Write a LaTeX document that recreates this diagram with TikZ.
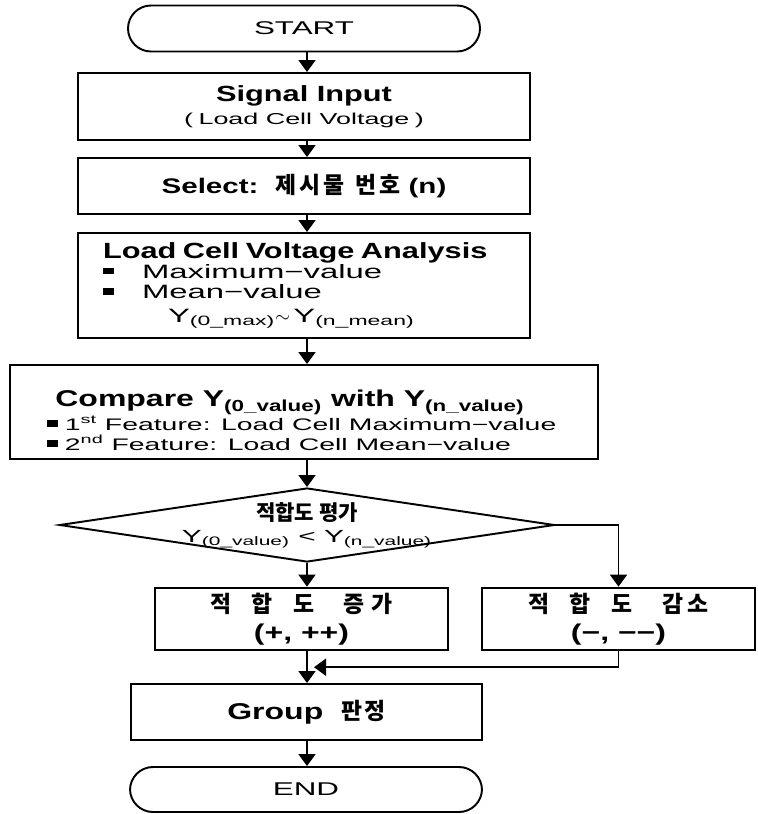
\documentclass[tikz,border=0pt]{standalone}
\usepackage{fontspec}
\setmainfont{Liberation Sans}[UprightFeatures={FakeStretch=1.7}, BoldFeatures={FakeStretch=1.4}]
\newfontfamily\kor{Noto Sans CJK KR}
\usetikzlibrary{arrows.meta, positioning, shapes.geometric, calc}

\newcommand{\bul}{\rule[0.22em]{6pt}{3.6pt}}
\newcommand{\kgap}{\hspace{0.9em}}

\tikzset{
  term/.style={draw, line width=1.1pt, rounded corners=0.46cm, minimum width=7.04cm,
               minimum height=0.92cm, font=\fontsize{10.5}{12}\selectfont},
  pbox/.style={draw, line width=1.1pt, minimum width=9.04cm, inner sep=3pt, align=center},
  arr/.style={-{Triangle[width=0.34cm, length=0.24cm]}, line width=1.1pt},
}

\begin{document}
\begin{tikzpicture}[
    every node/.style={font=\fontsize{11}{13}\selectfont},
    ybox/.style={pbox, minimum width=5.86cm, minimum height=1.12cm, font=\fontsize{13}{16}\selectfont},
    decbox/.style={draw, diamond, line width=1.1pt, minimum width=9.9cm, minimum height=1.48cm, inner sep=0pt}
  ]
  \useasboundingbox (0,0) rectangle (15.16,-16.28);
  \coordinate (axis) at (6.14,0);

  % Start / input
  \node[term] (start) at (6.08,-0.57) {START};
  \node[pbox, minimum height=1.34cm] (sig) at (6.08,-2.13)
    {{\bfseries\fontsize{12.5}{15}\selectfont Signal Input}\\
     {\fontsize{9}{11}\selectfont (\hspace{0.35em}Load Cell Voltage\hspace{0.35em})}};
  \node[pbox, minimum height=1.12cm, font=\bfseries\fontsize{12}{14}\selectfont] (sel) at (6.08,-3.72)
    {Select:\hspace{0.3em} {\kor\fontsize{13}{14}\selectfont 제\hspace{0.12em}시\hspace{0.12em}물\hspace{0.5em}번\hspace{0.12em}호} (n)};

  % Analysis
  \node[pbox, minimum height=2.1cm, align=left, text width=8.04cm, inner xsep=0.5cm,
        font=\fontsize{11}{11.6}\selectfont] (ana) at (6.08,-5.71)
    {{\bfseries\fontsize{12.5}{11.6}\selectfont Load Cell Voltage Analysis}\\
     \makebox[0.78cm][l]{\bul}Maximum−value\\
     \makebox[0.78cm][l]{\bul}Mean−value\\[2pt]
     \hspace*{1.3cm}Y\textsubscript{(0\_max)}$\sim$\,Y\textsubscript{(n\_mean)}};

  % Compare
  \node[pbox, minimum width=11.76cm, minimum height=1.88cm] (cmp) at (6.08,-8.24) {};
  \node[anchor=south west, align=left, inner sep=0pt, font=\fontsize{9.5}{11.4}\selectfont] (cmptxt)
    at ([xshift=0.76cm, yshift=0.18cm]cmp.south west)
    {\hspace*{0.16cm}{\bfseries\fontsize{13}{11.4}\selectfont Compare Y\textsubscript{(0\_value)} with Y\textsubscript{(n\_value)}}\\
     \bul\hspace{4pt}1\textsuperscript{st} Feature: Load Cell Maximum−value\\
     \bul\hspace{4pt}2\textsuperscript{nd} Feature: Load Cell Mean−value};

  % Decision
  \node[decbox] (dec) at (6.14,-10.5) {};
  \node[align=center, font=\fontsize{10}{12.5}\selectfont] (dectxt) at (dec.center)
    {{\kor\bfseries\fontsize{12}{12.5}\selectfont 적합도 평가}\\
     Y\textsubscript{(0\_value)} < Y\textsubscript{(n\_value)}};

  % Fitness up / down
  \node[ybox] (inc) at (6.03,-12.38)
    {{\kor\bfseries 적\kgap 합\kgap 도\hspace{1.3em}증\hspace{0.3em}가}\\{\bfseries (+, ++)}};
  \node[ybox, minimum width=5.46cm] (dcr) at (12.37,-12.38)
    {{\kor\bfseries 적\kgap 합\kgap 도\hspace{1.3em}감\hspace{0.2em}소}\\{\bfseries (−, −−)}};

  % Group / end
  \node[pbox, minimum width=7.02cm, minimum height=1.12cm, font=\bfseries\fontsize{13}{15}\selectfont] (grp) at (6.13,-14.24)
    {Group\hspace{0.4em} {\kor 판\hspace{0.1em}정}};
  \node[term, minimum height=0.9cm] (end) at (6.12,-15.79) {END};

  \coordinate (join) at ($(inc.south -| axis)!0.5!(grp.north -| axis)$);

  % Connectors
  \draw[arr] (start.south -| axis) -- (sig.north -| axis);
  \draw[arr] (sig.south -| axis) -- (sel.north -| axis);
  \draw[arr] (sel.south -| axis) -- (ana.north -| axis);
  \draw[arr] (ana.south -| axis) -- (cmp.north -| axis);
  \draw[arr] (cmp.south -| axis) -- (dec.north);
  \draw[arr] (dec.south) -- (inc.north -| axis);
  \draw[arr] (dec.east) -| (dcr.north);
  \draw[arr] (inc.south -| axis) -- (grp.north -| axis);
  \draw[arr] (dcr.south) |- ([xshift=0.14cm]join);
  \draw[arr] (grp.south -| axis) -- (end.north -| axis);

\end{tikzpicture}
\end{document}
